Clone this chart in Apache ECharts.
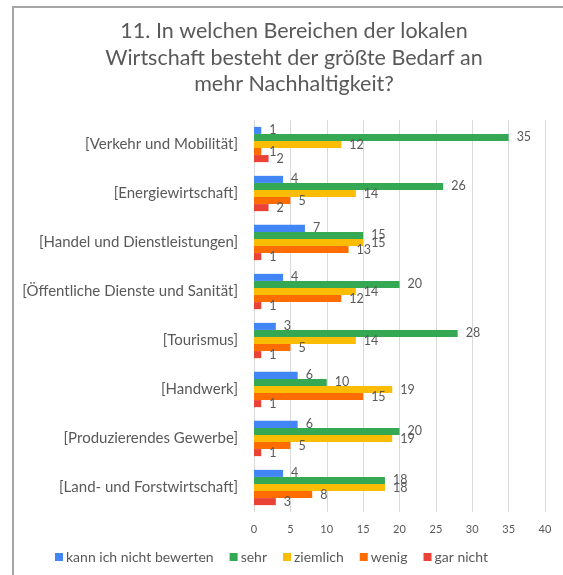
<!DOCTYPE html>
<html>
<head>
<meta charset="utf-8">
<script src="https://cdn.jsdelivr.net/npm/echarts@6/dist/echarts.min.js"></script>
<style>
  html, body { margin: 0; padding: 0; background: #fff; }
  #chart { width: 563px; height: 575px; }
  #frame {
    position: absolute; left: 12px; top: 6px; width: 551px; height: 569px;
    border-left: 2px solid #a6a6a6; border-top: 2px solid #a6a6a6;
    pointer-events: none; box-sizing: border-box;
  }
</style>
</head>
<body>
<div id="chart"></div>
<div id="frame"></div>
<script>
  // Bereiche (von oben nach unten)
  const categories = [
    "[Verkehr und Mobilität]",
    "[Energiewirtschaft]",
    "[Handel und Dienstleistungen]",
    "[Öffentliche Dienste und Sanität]",
    "[Tourismus]",
    "[Handwerk]",
    "[Produzierendes Gewerbe]",
    "[Land- und Forstwirtschaft]"
  ];
  const seriesNames = ["kann ich nicht bewerten", "sehr", "ziemlich", "wenig", "gar nicht"];
  const kannNicht = [1, 4, 7, 4, 3, 6, 6, 4];
  const sehr = [35, 26, 15, 20, 28, 10, 20, 18];
  const ziemlich = [12, 14, 15, 14, 14, 19, 19, 18];
  const wenig = [1, 5, 13, 12, 5, 15, 5, 8];
  const garNicht = [2, 2, 1, 1, 1, 1, 1, 3];
  const colors = ["#4285F4", "#34A853", "#FBBC04", "#FF6D01", "#EA4335"];

  const allValues = [kannNicht, sehr, ziemlich, wenig, garNicht];
  const textColor = "#595959";
  const font = "Lato";

  let chart = echarts.init(document.getElementById("chart"));

  let series = allValues.map(function (vals, i) {
    return {
      name: seriesNames[i],
      type: "bar",
      data: vals,
      barGap: "0%",
      barCategoryGap: "28%",
      itemStyle: { color: colors[i] },
      label: {
        show: true,
        position: "right",
        distance: 8,
        color: textColor,
        fontFamily: font,
        fontSize: 12.5
      }
    };
  });

  let option = {
    animation: false,
    title: {
      text: "11. In welchen Bereichen der lokalen\nWirtschaft besteht der größte Bedarf an\nmehr Nachhaltigkeit?",
      left: 289,
      textAlign: "center",
      top: 13,
      textStyle: {
        color: textColor,
        fontFamily: font,
        fontSize: 21.5,
        fontWeight: "normal",
        lineHeight: 26.5
      }
    },
    legend: {
      data: seriesNames,
      bottom: 6,
      left: 50,
      icon: "rect",
      itemWidth: 8,
      itemHeight: 8,
      itemGap: 16,
      textStyle: { color: textColor, fontFamily: font, fontSize: 14, padding: [0, 0, 0, -2] }
    },
    grid: {
      left: 254,
      right: 18,
      top: 120,
      bottom: 63
    },
    xAxis: {
      type: "value",
      min: 0,
      max: 40,
      interval: 5,
      axisLine: { show: false },
      axisTick: { show: false },
      splitLine: { show: true, lineStyle: { color: "#d9d9d9", width: 1 } },
      axisLabel: { color: textColor, fontFamily: font, fontSize: 11, margin: 12 }
    },
    yAxis: {
      type: "category",
      inverse: true,
      data: categories,
      axisLine: { show: false },
      axisTick: { show: false },
      axisLabel: { color: textColor, fontFamily: font, fontSize: 15, margin: 16 }
    },
    series: series
  };

  chart.setOption(option);
</script>
</body>
</html>
